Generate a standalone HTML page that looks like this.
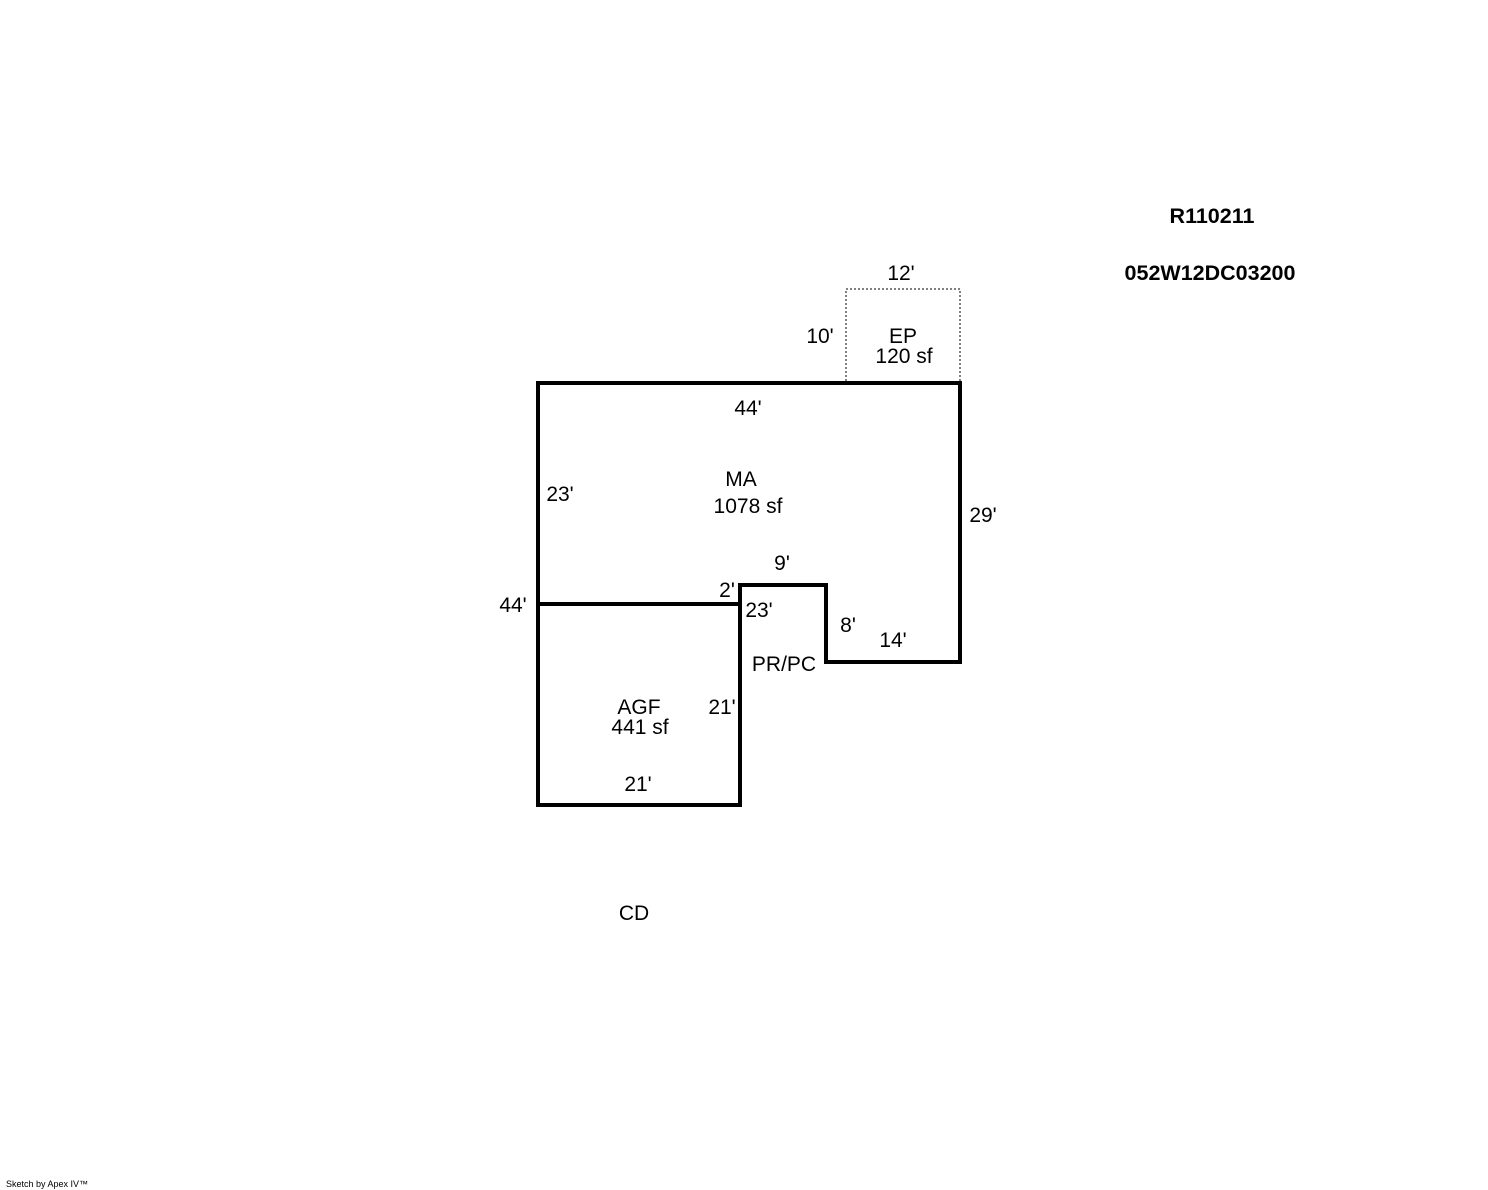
<!DOCTYPE html>
<html><head><meta charset="utf-8"><style>html,body{margin:0;padding:0;background:#fff}svg{display:block}</style></head><body>
<svg width="1488" height="1190" xmlns="http://www.w3.org/2000/svg" font-family="Liberation Sans, Arial, sans-serif" font-size="21" fill="#000">
<rect x="846" y="289" width="114" height="94" fill="none" stroke="#000" stroke-width="1" stroke-dasharray="2,2"/>
<path d="M538 383 H960 V662 H826 V585 H740 V805 H538 Z M538 604 H740" fill="none" stroke="#000" stroke-width="4" stroke-linejoin="miter"/>
<g text-anchor="middle">
<text x="1212" y="223" font-weight="bold" font-size="21.5">R110211</text>
<text x="1210" y="280" font-weight="bold" font-size="21.5">052W12DC03200</text>
<text x="901" y="280">12'</text>
<text x="820" y="343">10'</text>
<text x="903" y="343">EP</text>
<text x="904" y="363">120 sf</text>
<text x="748" y="415">44'</text>
<text x="741" y="486">MA</text>
<text x="748" y="513">1078 sf</text>
<text x="560" y="501">23'</text>
<text x="983" y="522">29'</text>
<text x="782" y="570">9'</text>
<text x="727" y="597">2'</text>
<text x="513" y="612">44'</text>
<text x="759" y="617">23'</text>
<text x="848" y="632">8'</text>
<text x="893" y="647">14'</text>
<text x="784" y="671">PR/PC</text>
<text x="639" y="714">AGF</text>
<text x="640" y="734">441 sf</text>
<text x="722" y="714">21'</text>
<text x="638" y="791">21'</text>
<text x="634" y="920">CD</text>
</g>
<text x="6" y="1187" font-size="9">Sketch by Apex IV™</text>
</svg>
</body></html>
